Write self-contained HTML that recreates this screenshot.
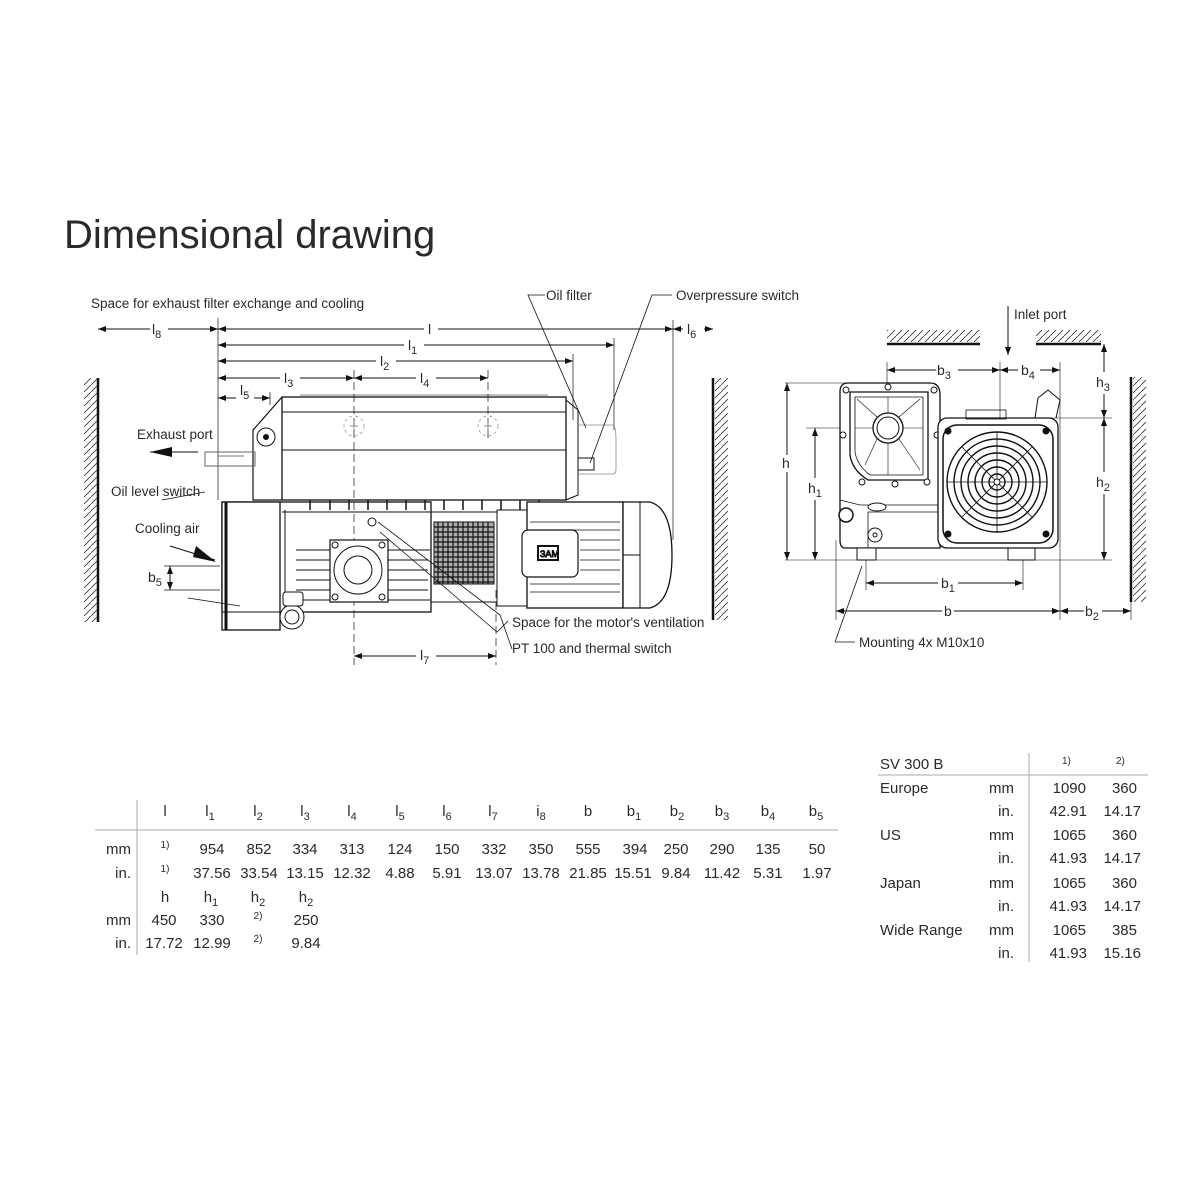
<!DOCTYPE html>
<html><head><meta charset="utf-8"><style>
html,body{margin:0;padding:0;background:#fff;}
svg{display:block;}
text{font-family:"Liberation Sans",sans-serif;fill:#2a2a2a;}
.lb{font-size:13.5px;}
.tb{font-size:15px;fill:#333;}
</style></head><body>
<svg width="1200" height="1200" viewBox="0 0 1200 1200" xmlns="http://www.w3.org/2000/svg">
<defs>
<marker id="a" markerWidth="8" markerHeight="6" refX="8" refY="3" orient="auto" markerUnits="userSpaceOnUse"><path d="M0,0 L8,3 L0,6z" fill="#111"/></marker>
<marker id="s" markerWidth="8" markerHeight="6" refX="0" refY="3" orient="auto" markerUnits="userSpaceOnUse"><path d="M8,0 L0,3 L8,6z" fill="#111"/></marker>
<pattern id="hl" width="7" height="7" patternUnits="userSpaceOnUse"><path d="M0,7 L7,0" stroke="#333" stroke-width="0.8"/></pattern>
</defs>
<text x="64" y="248" style="font-size:40px" fill="#111">Dimensional drawing</text>

<!-- LEFT DRAWING -->
<g stroke="#111" fill="none" stroke-width="1">
<line x1="98" y1="378" x2="98" y2="622" stroke-width="2.5"/>
<rect x="84" y="378" width="13" height="244" fill="url(#hl)" stroke="none"/>
<line x1="713" y1="378" x2="713" y2="620" stroke-width="2.5"/>
<rect x="715" y="378" width="13" height="242" fill="url(#hl)" stroke="none"/>
<line x1="218" y1="318" x2="218" y2="500" stroke-width="0.7"/>
<line x1="673" y1="320" x2="673" y2="540" stroke-width="0.7"/>
<line x1="614" y1="338" x2="614" y2="430" stroke-width="0.7"/>
<line x1="573" y1="354" x2="573" y2="420" stroke-width="0.7"/>
<line x1="270" y1="392" x2="270" y2="405" stroke-width="0.7"/>
<line x1="354" y1="370" x2="354" y2="665" stroke-dasharray="8,4" stroke-width="0.7"/>
<line x1="488" y1="370" x2="488" y2="440" stroke-dasharray="8,4" stroke-width="0.7"/>
<line x1="496" y1="590" x2="496" y2="665" stroke-dasharray="8,4" stroke-width="0.7"/>
<line x1="98" y1="329" x2="150" y2="329" marker-start="url(#s)"/><line x1="168" y1="329" x2="218" y2="329" marker-end="url(#a)"/>
<line x1="218" y1="329" x2="424" y2="329" marker-start="url(#s)"/><line x1="438" y1="329" x2="673" y2="329" marker-end="url(#a)"/>
<line x1="673" y1="329" x2="683" y2="329" marker-start="url(#s)"/><line x1="704" y1="329" x2="713" y2="329" marker-end="url(#a)"/>
<line x1="218" y1="345" x2="404" y2="345" marker-start="url(#s)"/><line x1="424" y1="345" x2="614" y2="345" marker-end="url(#a)"/>
<line x1="218" y1="361" x2="376" y2="361" marker-start="url(#s)"/><line x1="396" y1="361" x2="573" y2="361" marker-end="url(#a)"/>
<line x1="218" y1="378" x2="280" y2="378" marker-start="url(#s)"/><line x1="300" y1="378" x2="354" y2="378" marker-end="url(#a)"/>
<line x1="354" y1="378" x2="416" y2="378" marker-start="url(#s)"/><line x1="436" y1="378" x2="488" y2="378" marker-end="url(#a)"/>
<line x1="218" y1="398" x2="236" y2="398" marker-start="url(#s)"/><line x1="254" y1="398" x2="270" y2="398" marker-end="url(#a)"/>
<line x1="354" y1="656" x2="416" y2="656" marker-start="url(#s)"/><line x1="436" y1="656" x2="496" y2="656" marker-end="url(#a)"/>
<line x1="164" y1="566" x2="220" y2="566" stroke-width="0.7"/>
<line x1="164" y1="590" x2="220" y2="590" stroke-width="0.7"/>
<line x1="170" y1="566" x2="170" y2="590" marker-start="url(#s)" marker-end="url(#a)"/>

<rect x="282" y="397" width="284" height="103" stroke-width="1.3"/>
<line x1="282" y1="412" x2="566" y2="412"/>
<line x1="282" y1="450" x2="566" y2="450"/>
<line x1="300" y1="395" x2="548" y2="395" stroke-width="0.6"/>
<path d="M282,397 L262,420 L253,430 L253,500 L282,500" stroke-width="1.2"/>
<circle cx="266" cy="437" r="9"/><circle cx="266" cy="437" r="2.5" fill="#111"/>
<path d="M566,400 L578,410 L578,495 L566,500"/>
<path d="M578,425 L612,425 Q616,425 616,440 L616,470 Q616,474 612,474 L578,474" stroke="#888" stroke-width="0.8"/>
<rect x="578" y="458" width="16" height="12"/>
<g stroke="#999" stroke-dasharray="3,3" stroke-width="0.8"><circle cx="354" cy="426" r="10"/><circle cx="488" cy="426" r="10"/></g>
<g stroke="#777" stroke-width="0.8"><line x1="350" y1="426" x2="358" y2="426"/><line x1="354" y1="422" x2="354" y2="430"/><line x1="484" y1="426" x2="492" y2="426"/><line x1="488" y1="422" x2="488" y2="430"/></g>
<rect x="205" y="452" width="50" height="14" stroke="#666"/>
<line x1="218" y1="456" x2="244" y2="456" stroke="#777"/>
<rect x="222" y="502" width="209" height="110" stroke-width="1.3"/>
<rect x="222" y="502" width="58" height="128" stroke-width="1.3" fill="#fff"/>
<line x1="226" y1="502" x2="226" y2="630" stroke-width="3"/>
<line x1="280" y1="612" x2="222" y2="612"/>
<line x1="285" y1="510" x2="285" y2="612"/>
<g stroke-width="1"><line x1="296" y1="550" x2="430" y2="550"/><line x1="296" y1="560" x2="330" y2="560"/><line x1="296" y1="570" x2="330" y2="570"/><line x1="296" y1="580" x2="330" y2="580"/><line x1="296" y1="590" x2="330" y2="590"/><line x1="296" y1="600" x2="430" y2="600"/><line x1="388" y1="560" x2="428" y2="560"/><line x1="388" y1="570" x2="428" y2="570"/><line x1="388" y1="580" x2="428" y2="580"/><line x1="388" y1="590" x2="428" y2="590"/></g>
<rect x="330" y="540" width="58" height="62" fill="#fff" stroke-width="1.2"/>
<circle cx="358" cy="570" r="24"/><circle cx="358" cy="570" r="14"/>
<circle cx="335" cy="545" r="3"/><circle cx="382" cy="545" r="3"/><circle cx="335" cy="597" r="3"/><circle cx="382" cy="597" r="3"/>
<g stroke-width="1.5">
<line x1="310" y1="500" x2="310" y2="510"/><line x1="330" y1="500" x2="330" y2="510"/><line x1="349" y1="500" x2="349" y2="510"/><line x1="368" y1="500" x2="368" y2="510"/><line x1="387" y1="500" x2="387" y2="510"/><line x1="406" y1="500" x2="406" y2="510"/><line x1="425" y1="500" x2="425" y2="510"/><line x1="444" y1="500" x2="444" y2="510"/><line x1="463" y1="500" x2="463" y2="510"/><line x1="482" y1="500" x2="482" y2="510"/><line x1="501" y1="500" x2="501" y2="510"/><line x1="520" y1="500" x2="520" y2="510"/><line x1="539" y1="500" x2="539" y2="510"/></g>
<line x1="282" y1="512" x2="520" y2="512"/>
<circle cx="372" cy="522" r="4"/>
<circle cx="292" cy="617" r="12" fill="#fff"/><circle cx="292" cy="617" r="7"/>
<rect x="283" y="592" width="20" height="14" rx="3" fill="#fff"/>
<rect x="431" y="512" width="66" height="90"/>
<rect x="434" y="522" width="60" height="62" fill="#fff"/>
<g stroke="#111" stroke-width="1.2">
<line x1="438" y1="522" x2="438" y2="584"/><line x1="443" y1="522" x2="443" y2="584"/><line x1="448" y1="522" x2="448" y2="584"/><line x1="453" y1="522" x2="453" y2="584"/><line x1="458" y1="522" x2="458" y2="584"/><line x1="463" y1="522" x2="463" y2="584"/><line x1="468" y1="522" x2="468" y2="584"/><line x1="473" y1="522" x2="473" y2="584"/><line x1="478" y1="522" x2="478" y2="584"/><line x1="483" y1="522" x2="483" y2="584"/><line x1="488" y1="522" x2="488" y2="584"/>
<line x1="434" y1="527" x2="494" y2="527"/><line x1="434" y1="532" x2="494" y2="532"/><line x1="434" y1="537" x2="494" y2="537"/><line x1="434" y1="542" x2="494" y2="542"/><line x1="434" y1="547" x2="494" y2="547"/><line x1="434" y1="552" x2="494" y2="552"/><line x1="434" y1="557" x2="494" y2="557"/><line x1="434" y1="562" x2="494" y2="562"/><line x1="434" y1="567" x2="494" y2="567"/><line x1="434" y1="572" x2="494" y2="572"/><line x1="434" y1="577" x2="494" y2="577"/><line x1="434" y1="582" x2="494" y2="582"/></g>
<rect x="434" y="522" width="60" height="62" fill="#111" fill-opacity="0.35" stroke="none"/>
<rect x="497" y="510" width="30" height="96" fill="#fff"/>
<rect x="527" y="502" width="96" height="106" fill="#fff" stroke-width="1.3"/>
<g stroke-width="0.8"><line x1="530" y1="522" x2="620" y2="522"/><line x1="530" y1="530" x2="620" y2="530"/><line x1="580" y1="540" x2="620" y2="540"/><line x1="580" y1="550" x2="620" y2="550"/><line x1="580" y1="560" x2="620" y2="560"/><line x1="580" y1="570" x2="620" y2="570"/><line x1="530" y1="584" x2="620" y2="584"/><line x1="530" y1="592" x2="620" y2="592"/></g>
<rect x="522" y="530" width="56" height="47" rx="6" fill="#fff" stroke-width="1.2"/>
<rect x="538" y="546" width="20" height="14" stroke-width="2"/>
<text x="540" y="557" style="font-size:9px">ЗАМ</text>
<path d="M623,502 L650,502 Q672,508 672,555 Q672,602 650,608 L623,608z" fill="#fff" stroke-width="1.3"/>
<line x1="640" y1="502" x2="640" y2="608"/><line x1="623" y1="555" x2="640" y2="555"/>
</g>
<g stroke="#111" fill="none" stroke-width="0.8">
<path d="M545,295 L528,295 L586,428"/>
<path d="M672,295 L652,295 L590,463"/>
<line x1="188" y1="598" x2="240" y2="606"/>
<path d="M378,522 L500,615 L512,649"/>
<path d="M380,532 L497,632 L508,621"/>
<line x1="835" y1="642" x2="862" y2="566"/><line x1="835" y1="642" x2="855" y2="642"/>
</g>
<path d="M150,452 L198,452" stroke="#111" stroke-width="1"/><path d="M150,452 L172,447 L172,457z" fill="#111"/>
<path d="M170,546 L215,560" stroke="#111" stroke-width="1"/><path d="M216,562 L196,546 L193,557z" fill="#111"/>
<line x1="162" y1="500" x2="205" y2="492" stroke="#111" stroke-width="0.8"/>

<text class="lb" x="91" y="308">Space for exhaust filter exchange and cooling</text>
<text class="lb" x="546" y="300">Oil filter</text>
<text class="lb" x="676" y="300">Overpressure switch</text>
<text class="lb" x="137" y="439">Exhaust port</text>
<text class="lb" x="111" y="496">Oil level switch</text>
<text class="lb" x="135" y="533">Cooling air</text>
<text class="lb" x="512" y="627">Space for the motor's ventilation</text>
<text class="lb" x="512" y="653">PT 100 and thermal switch</text>
<g class="lb" style="font-size:14px">
<text x="152" y="334">l<tspan dy="4" font-size="11">8</tspan></text>
<text x="428" y="334">l</text>
<text x="687" y="334">l<tspan dy="4" font-size="11">6</tspan></text>
<text x="408" y="350">l<tspan dy="4" font-size="11">1</tspan></text>
<text x="380" y="366">l<tspan dy="4" font-size="11">2</tspan></text>
<text x="284" y="383">l<tspan dy="4" font-size="11">3</tspan></text>
<text x="420" y="383">l<tspan dy="4" font-size="11">4</tspan></text>
<text x="240" y="395">l<tspan dy="4" font-size="11">5</tspan></text>
<text x="420" y="660">l<tspan dy="4" font-size="11">7</tspan></text>
<text x="148" y="582">b<tspan dy="4" font-size="11">5</tspan></text>
</g>

<!-- RIGHT DRAWING -->
<g stroke="#111" fill="none" stroke-width="1">
<line x1="887" y1="344" x2="980" y2="344" stroke-width="2.5"/>
<rect x="887" y="330" width="93" height="12" fill="url(#hl)" stroke="none"/>
<line x1="1036" y1="344" x2="1101" y2="344" stroke-width="2.5"/>
<rect x="1036" y="330" width="65" height="12" fill="url(#hl)" stroke="none"/>
<line x1="1131" y1="377" x2="1131" y2="602" stroke-width="2.5"/>
<rect x="1133" y="377" width="13" height="225" fill="url(#hl)" stroke="none"/>
<line x1="1008" y1="306" x2="1008" y2="355" marker-end="url(#a)"/>
<line x1="785" y1="383" x2="850" y2="383" stroke-width="0.6"/>
<line x1="785" y1="560" x2="1112" y2="560" stroke-width="0.6"/>
<line x1="806" y1="428" x2="888" y2="428" stroke-width="0.6"/>
<line x1="1045" y1="418" x2="1112" y2="418" stroke-width="0.6"/>
<line x1="887" y1="362" x2="887" y2="430" stroke-width="0.6"/>
<line x1="1000" y1="362" x2="1000" y2="440" stroke-width="0.6"/>
<line x1="1060" y1="362" x2="1060" y2="620" stroke-width="0.6"/>
<line x1="836" y1="540" x2="836" y2="620" stroke-width="0.6"/>
<line x1="1131" y1="600" x2="1131" y2="620" stroke-width="0.6"/>
<line x1="866" y1="560" x2="866" y2="590" stroke-width="0.6"/>
<line x1="1023" y1="540" x2="1023" y2="590" stroke-width="0.6"/>
<line x1="787" y1="383" x2="787" y2="455" marker-start="url(#s)"/><line x1="787" y1="472" x2="787" y2="560" marker-end="url(#a)"/>
<line x1="815" y1="428" x2="815" y2="478" marker-start="url(#s)"/><line x1="815" y1="500" x2="815" y2="560" marker-end="url(#a)"/>
<line x1="1104" y1="418" x2="1104" y2="472" marker-start="url(#s)"/><line x1="1104" y1="494" x2="1104" y2="560" marker-end="url(#a)"/>
<line x1="1104" y1="344" x2="1104" y2="372" marker-start="url(#s)"/><line x1="1104" y1="394" x2="1104" y2="418" marker-end="url(#a)"/>
<line x1="887" y1="370" x2="936" y2="370" marker-start="url(#s)"/><line x1="958" y1="370" x2="1000" y2="370" marker-end="url(#a)"/>
<line x1="1000" y1="370" x2="1018" y2="370" marker-start="url(#s)"/><line x1="1040" y1="370" x2="1060" y2="370" marker-end="url(#a)"/>
<line x1="866" y1="583" x2="938" y2="583" marker-start="url(#s)"/><line x1="958" y1="583" x2="1023" y2="583" marker-end="url(#a)"/>
<line x1="836" y1="611" x2="942" y2="611" marker-start="url(#s)"/><line x1="954" y1="611" x2="1060" y2="611" marker-end="url(#a)"/>
<line x1="1060" y1="611" x2="1084" y2="611" marker-start="url(#s)"/><line x1="1102" y1="611" x2="1131" y2="611" marker-end="url(#a)"/>
<path d="M848,383 L930,383 Q940,383 940,395 L940,548 L845,548 Q840,548 840,540 L840,392 Q840,383 848,383z" fill="#fff" stroke-width="1.3"/>
<path d="M850,392 L928,392 L928,480 L868,480 Q852,470 850,455z" stroke-width="1.3"/>
<path d="M855,397 L923,397 L923,475 L870,475 Q857,465 855,452z" stroke-width="0.8"/>
<circle cx="888" cy="428" r="15" fill="#fff" stroke-width="1.3"/><circle cx="888" cy="428" r="11"/>
<g stroke-width="0.6"><line x1="873" y1="428" x2="855" y2="428"/><line x1="903" y1="428" x2="923" y2="428"/><line x1="888" y1="413" x2="888" y2="397"/><line x1="888" y1="443" x2="888" y2="475"/><line x1="877" y1="417" x2="857" y2="399"/><line x1="899" y1="417" x2="920" y2="399"/><line x1="899" y1="439" x2="920" y2="470"/><line x1="877" y1="439" x2="865" y2="465"/></g>
<g fill="#fff"><circle cx="846" cy="390" r="3"/><circle cx="888" cy="387" r="3"/><circle cx="934" cy="390" r="3"/><circle cx="843" cy="435" r="3"/><circle cx="937" cy="435" r="3"/><circle cx="862" cy="482" r="3"/><circle cx="895" cy="484" r="3"/><circle cx="927" cy="482" r="3"/></g>
<path d="M840,500 L860,505 L940,505" stroke-width="0.8"/>
<path d="M868,512 L940,512 L940,548 L868,548z" stroke-width="0.8"/>
<ellipse cx="877" cy="507" rx="9" ry="4" fill="#fff"/>
<circle cx="846" cy="515" r="7" fill="#fff" stroke-width="1.5"/>
<circle cx="875" cy="535" r="7" fill="#fff"/><circle cx="875" cy="535" r="2"/>
<rect x="857" y="548" width="19" height="12" fill="#fff"/><rect x="1008" y="548" width="27" height="12" fill="#fff"/>
<rect x="938" y="418" width="120" height="130" rx="9" fill="#fff" stroke-width="1.3"/>
<rect x="966" y="410" width="40" height="9" stroke-width="0.8"/>
<path d="M1035,418 L1038,398 L1048,390 L1060,400 L1056,418" stroke-width="1"/>
<rect x="943" y="425" width="110" height="118" rx="14" stroke-width="1.5"/>
<g stroke-width="1.4"><circle cx="997" cy="482" r="50"/><circle cx="997" cy="482" r="43"/><circle cx="997" cy="482" r="36"/><circle cx="997" cy="482" r="29"/><circle cx="997" cy="482" r="22"/><circle cx="997" cy="482" r="15"/><circle cx="997" cy="482" r="8"/></g>
<g stroke-width="0.8"><line x1="997" y1="432" x2="997" y2="532"/><line x1="947" y1="482" x2="1047" y2="482"/><line x1="962" y1="447" x2="1032" y2="517"/><line x1="1032" y1="447" x2="962" y2="517"/></g>
<circle cx="997" cy="482" r="3" fill="#fff"/>
<g fill="#111"><circle cx="948" cy="431" r="3"/><circle cx="1046" cy="431" r="3"/><circle cx="948" cy="534" r="3"/><circle cx="1046" cy="534" r="3"/></g>
</g>
<g class="lb" style="font-size:14px">
<text x="1014" y="319" style="font-size:13.5px">Inlet port</text>
<text x="937" y="375">b<tspan dy="4" font-size="11">3</tspan></text>
<text x="1021" y="375">b<tspan dy="4" font-size="11">4</tspan></text>
<text x="1096" y="387">h<tspan dy="4" font-size="11">3</tspan></text>
<text x="1096" y="487">h<tspan dy="4" font-size="11">2</tspan></text>
<text x="782" y="468">h</text>
<text x="808" y="493">h<tspan dy="4" font-size="11">1</tspan></text>
<text x="941" y="588">b<tspan dy="4" font-size="11">1</tspan></text>
<text x="944" y="616">b</text>
<text x="1085" y="616">b<tspan dy="4" font-size="11">2</tspan></text>
<text x="859" y="647" style="font-size:13.5px">Mounting 4x M10x10</text>
</g>

<!-- LEFT TABLE -->
<line x1="95" y1="830" x2="838" y2="830" stroke="#aaa" stroke-width="1"/>
<line x1="137" y1="800" x2="137" y2="955" stroke="#aaa" stroke-width="1"/>
<g class="tb" text-anchor="middle">
<text x="165" y="816">l</text>
<text x="210" y="816">l<tspan dy="4" font-size="11">1</tspan></text>
<text x="258" y="816">l<tspan dy="4" font-size="11">2</tspan></text>
<text x="305" y="816">l<tspan dy="4" font-size="11">3</tspan></text>
<text x="352" y="816">l<tspan dy="4" font-size="11">4</tspan></text>
<text x="400" y="816">l<tspan dy="4" font-size="11">5</tspan></text>
<text x="447" y="816">l<tspan dy="4" font-size="11">6</tspan></text>
<text x="493" y="816">l<tspan dy="4" font-size="11">7</tspan></text>
<text x="541" y="816">i<tspan dy="4" font-size="11">8</tspan></text>
<text x="588" y="816">b</text>
<text x="634" y="816">b<tspan dy="4" font-size="11">1</tspan></text>
<text x="677" y="816">b<tspan dy="4" font-size="11">2</tspan></text>
<text x="722" y="816">b<tspan dy="4" font-size="11">3</tspan></text>
<text x="768" y="816">b<tspan dy="4" font-size="11">4</tspan></text>
<text x="816" y="816">b<tspan dy="4" font-size="11">5</tspan></text>
<text x="165" y="848" font-size="10">1)</text>
<text x="212" y="854">954</text><text x="259" y="854">852</text><text x="305" y="854">334</text><text x="352" y="854">313</text><text x="400" y="854">124</text><text x="447" y="854">150</text><text x="494" y="854">332</text><text x="541" y="854">350</text><text x="588" y="854">555</text><text x="635" y="854">394</text><text x="676" y="854">250</text><text x="722" y="854">290</text><text x="768" y="854">135</text><text x="817" y="854">50</text>
<text x="165" y="872" font-size="10">1)</text>
<text x="212" y="878">37.56</text><text x="259" y="878">33.54</text><text x="305" y="878">13.15</text><text x="352" y="878">12.32</text><text x="400" y="878">4.88</text><text x="447" y="878">5.91</text><text x="494" y="878">13.07</text><text x="541" y="878">13.78</text><text x="588" y="878">21.85</text><text x="633" y="878">15.51</text><text x="676" y="878">9.84</text><text x="722" y="878">11.42</text><text x="768" y="878">5.31</text><text x="817" y="878">1.97</text>
<text x="165" y="902">h</text>
<text x="211" y="902">h<tspan dy="4" font-size="11">1</tspan></text>
<text x="258" y="902">h<tspan dy="4" font-size="11">2</tspan></text>
<text x="306" y="902">h<tspan dy="4" font-size="11">2</tspan></text>
<text x="164" y="925">450</text><text x="212" y="925">330</text><text x="258" y="919" font-size="10">2)</text><text x="306" y="925">250</text>
<text x="164" y="948">17.72</text><text x="212" y="948">12.99</text><text x="258" y="942" font-size="10">2)</text><text x="306" y="948">9.84</text>
</g>
<g class="tb" text-anchor="end">
<text x="131" y="854">mm</text><text x="131" y="878">in.</text>
<text x="131" y="925">mm</text><text x="131" y="948">in.</text>
</g>

<!-- RIGHT TABLE -->
<line x1="878" y1="775" x2="1148" y2="775" stroke="#aaa" stroke-width="1"/>
<line x1="1029" y1="753" x2="1029" y2="962" stroke="#aaa" stroke-width="1"/>
<g class="tb">
<text x="880" y="769">SV 300 B</text>
<text x="1062" y="764" font-size="10">1)</text><text x="1116" y="764" font-size="10">2)</text>
<text x="880" y="793">Europe</text><text x="880" y="840">US</text><text x="880" y="888">Japan</text><text x="880" y="935">Wide Range</text>
</g>
<g class="tb" text-anchor="end">
<text x="1014" y="793">mm</text><text x="1014" y="816">in.</text>
<text x="1014" y="840">mm</text><text x="1014" y="863">in.</text>
<text x="1014" y="888">mm</text><text x="1014" y="911">in.</text>
<text x="1014" y="935">mm</text><text x="1014" y="958">in.</text>
<text x="1086" y="793">1090</text><text x="1137" y="793">360</text>
<text x="1087" y="816">42.91</text><text x="1141" y="816">14.17</text>
<text x="1086" y="840">1065</text><text x="1137" y="840">360</text>
<text x="1087" y="863">41.93</text><text x="1141" y="863">14.17</text>
<text x="1086" y="888">1065</text><text x="1137" y="888">360</text>
<text x="1087" y="911">41.93</text><text x="1141" y="911">14.17</text>
<text x="1086" y="935">1065</text><text x="1137" y="935">385</text>
<text x="1087" y="958">41.93</text><text x="1141" y="958">15.16</text>
</g>
</svg>
</body></html>
